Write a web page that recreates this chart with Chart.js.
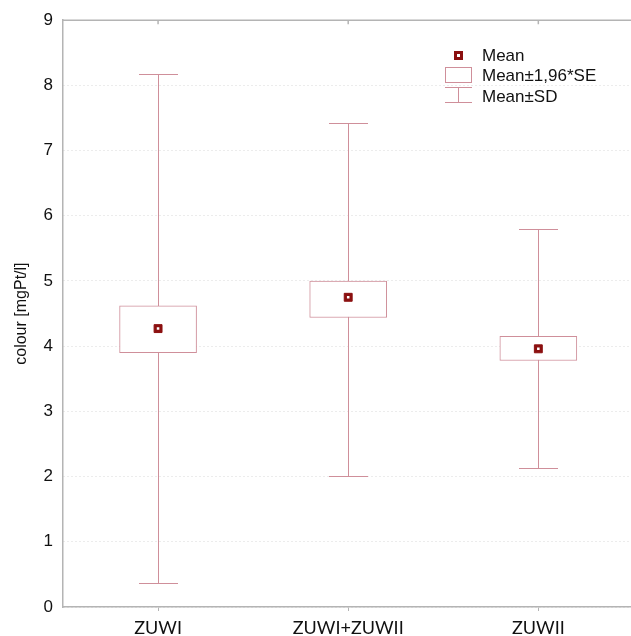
<!DOCTYPE html>
<html>
<head>
<meta charset="utf-8">
<script src="https://cdn.jsdelivr.net/npm/chart.js@4.4.1/dist/chart.umd.min.js"></script>
<style>
  html, body { margin: 0; padding: 0; background: #fff; }
  #wrap { position: relative; width: 631px; height: 636px; overflow: hidden; }
  .lg { position: absolute; font-family: 'Liberation Sans', Arial, sans-serif; font-size: 17px; color: #111; line-height: 20px; white-space: nowrap; }
  .sym { position: absolute; box-sizing: border-box; }
</style>
</head>
<body>
<div id="wrap">
  <canvas id="chart" width="640" height="636"></canvas>
  <!-- legend inside the plot, top right -->
  <div class="sym" style="left:454px;top:51px;width:9px;height:9px;background:#8b1010;"></div>
  <div class="sym" style="left:457px;top:54px;width:3px;height:3px;background:#fff;"></div>
  <div class="lg" style="left:482px;top:46px;">Mean</div>
  <div class="sym" style="left:445px;top:67px;width:27px;height:16px;border:1px solid #cf8f9a;"></div>
  <div class="lg" style="left:482px;top:66px;">Mean±1,96*SE</div>
  <div class="sym" style="left:445px;top:87px;width:27px;height:1px;background:#cf8f9a;"></div>
  <div class="sym" style="left:458px;top:87px;width:1px;height:16px;background:#cf8f9a;"></div>
  <div class="sym" style="left:445px;top:102px;width:27px;height:1px;background:#cf8f9a;"></div>
  <div class="lg" style="left:482px;top:87px;">Mean±SD</div>
</div>
<script>
const groups = ['ZUWI', 'ZUWI+ZUWII', 'ZUWII'];
const means = [4.27, 4.75, 3.96];
const seLow = [3.90, 4.44, 3.78];
const seHigh = [4.62, 5.00, 4.15];
const sdLow = [0.37, 2.01, 2.13];
const sdHigh = [8.17, 7.42, 5.80];

const boxColor = '#cf8f9a';
const meanColor = '#8b1010';
const axisColor = '#b4b4b4';

// whiskers (mean ± SD) under the boxes
const whiskers = {
  id: 'whiskers',
  beforeDatasetsDraw(chart) {
    const { ctx, scales: { x, y } } = chart;
    ctx.save();
    ctx.strokeStyle = boxColor;
    ctx.lineWidth = 1;
    groups.forEach((g, i) => {
      const px = Math.round(x.getPixelForValue(i)) + 0.5;
      const top = Math.round(y.getPixelForValue(sdHigh[i])) + 0.5;
      const bot = Math.round(y.getPixelForValue(sdLow[i])) + 0.5;
      ctx.beginPath();
      ctx.moveTo(px, top); ctx.lineTo(px, bot);
      ctx.moveTo(px - 19.5, top); ctx.lineTo(px + 19.5, top);
      ctx.moveTo(px - 19.5, bot); ctx.lineTo(px + 19.5, bot);
      ctx.stroke();
    });
    ctx.restore();
  }
};

// top frame line with small inward ticks
const frame = {
  id: 'frame',
  afterDraw(chart) {
    const { ctx, chartArea: a, scales: { x } } = chart;
    ctx.save();
    ctx.strokeStyle = axisColor;
    ctx.lineWidth = 1.5;
    ctx.beginPath();
    ctx.moveTo(a.left, a.top); ctx.lineTo(a.right, a.top);
    groups.forEach((g, i) => {
      const px = x.getPixelForValue(i);
      ctx.moveTo(px, a.top); ctx.lineTo(px, a.top + 4);
    });
    ctx.stroke();
    ctx.restore();
  }
};

new Chart(document.getElementById('chart'), {
  type: 'bar',
  data: {
    labels: groups,
    datasets: [
      {
        type: 'line',
        label: 'Mean',
        data: means,
        showLine: false,
        pointStyle: 'rect',
        pointRadius: 5.6,
        pointBackgroundColor: meanColor,
        pointBorderColor: meanColor,
        pointBorderWidth: 1,
        order: 1
      },
      {
        type: 'line',
        label: 'Mean centre',
        data: means,
        showLine: false,
        pointStyle: 'rect',
        pointRadius: 1.8,
        pointBackgroundColor: '#ffffff',
        pointBorderWidth: 0,
        order: 0
      },
      {
        label: 'Mean±1,96*SE',
        data: groups.map((g, i) => [seLow[i], seHigh[i]]),
        backgroundColor: '#ffffff',
        borderColor: boxColor,
        borderWidth: 1,
        borderSkipped: false,
        barThickness: 77,
        order: 2
      }
    ]
  },
  options: {
    responsive: false,
    animation: false,
    layout: { padding: { top: 19, right: 0, left: 0, bottom: 0 } },
    plugins: {
      legend: { display: false },
      tooltip: { enabled: false }
    },
    scales: {
      x: {
        afterFit(scale) { scale.height = 29; },
        grid: { display: true, offset: false, drawOnChartArea: false, tickLength: 4, color: axisColor },
        border: { color: axisColor, width: 1.5 },
        ticks: {
          padding: 6,
          color: '#111',
          font: { family: 'Lato, "Open Sans", sans-serif', size: 18 }
        }
      },
      y: {
        min: 0,
        max: 9,
        afterFit(scale) { scale.width = 63; },
        grid: {
          drawTicks: false,
          color: '#d9d9d9',
          lineWidth: 1
        },
        border: { color: axisColor, width: 1.5, dash: [1, 3] },
        ticks: {
          stepSize: 1,
          padding: 10,
          color: '#111',
          font: { family: '"Liberation Sans", Arial, sans-serif', size: 17 }
        },
        title: {
          display: true,
          text: 'colour [mgPt/l]',
          color: '#111',
          padding: { top: 12, bottom: 0 },
          font: { family: '"Liberation Sans", Arial, sans-serif', size: 16 }
        }
      }
    }
  },
  plugins: [whiskers, frame]
});
</script>
</body>
</html>
